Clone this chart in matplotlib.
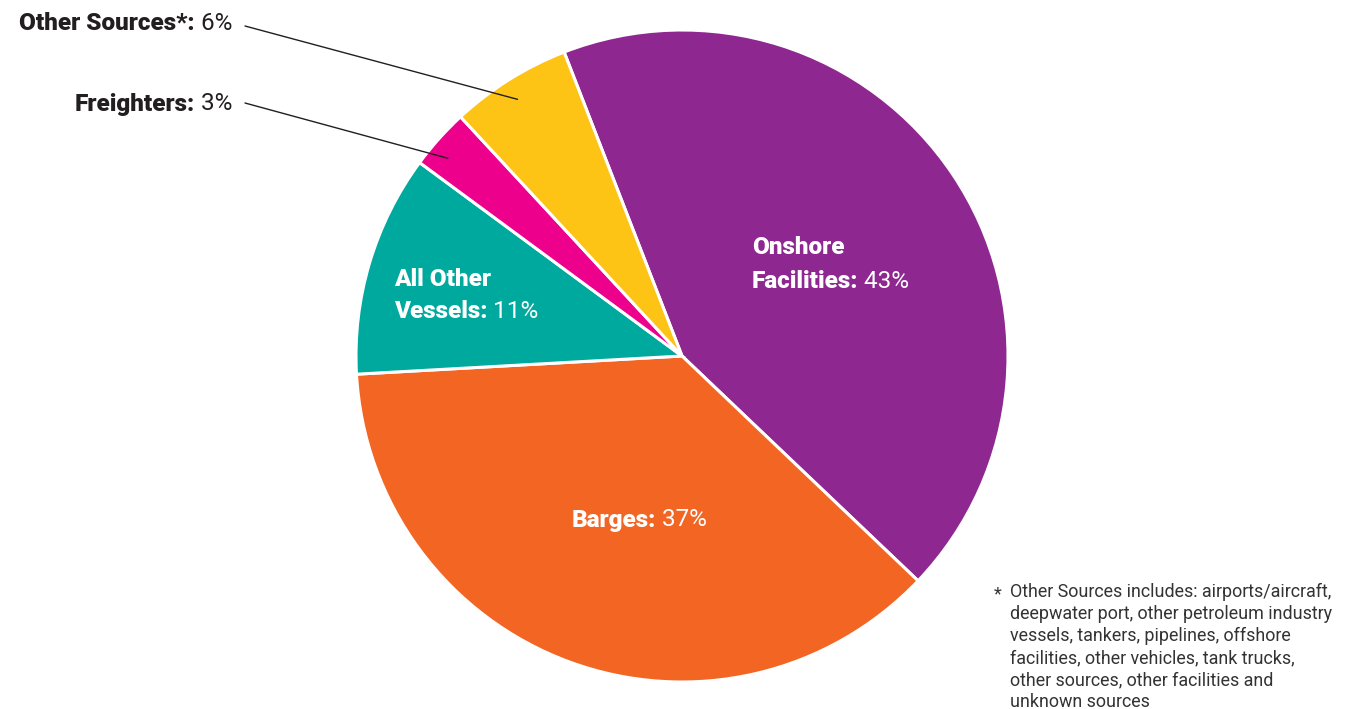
import numpy as np
import matplotlib
matplotlib.use("Agg")
import matplotlib.pyplot as plt

plt.rcParams['font.family'] = ['Roboto', 'DejaVu Sans']

# pie data, clockwise from the top
fuentes = ["Onshore Facilities", "Barges", "All Other Vessels", "Freighters", "Other Sources*"]
porcentajes = [43, 37, 11, 3, 6]
cores = ["#8E278F", "#F26522", "#00A99D", "#EC008C", "#FDC315"]

nota = ("Other Sources includes: airports/aircraft,\n"
        "deepwater port, other petroleum industry\n"
        "vessels, tankers, pipelines, offshore\n"
        "facilities, other vehicles, tank trucks,\n"
        "other sources, other facilities and\n"
        "unknown sources")

W, H = 1351, 709
fig = plt.figure(figsize=(W / 100, H / 100), dpi=100)

def fx(px):
    return px / W

def fy(py):
    return 1 - py / H

# pie: center (682, 356), radius 326 px
cx, cy, r = 682, 356, 326
ax = fig.add_axes([fx(cx - r), fy(cy + r), 2 * r / W, 2 * r / H])
fatias, _ = ax.pie(porcentajes, colors=cores, startangle=111.2, counterclock=False,
                   wedgeprops=dict(edgecolor="white", linewidth=2.2))
ax.set_xlim(-1, 1)
ax.set_ylim(-1, 1)
ax.set_aspect("equal")
ax.axis("off")

TAM = 17.5
PESO = "black"


def rotulo(x, y, negrito, normal, cor, ha="left"):
    # bold name followed by a regular value
    if ha == "left":
        t = fig.text(fx(x), fy(y), negrito, fontsize=TAM, fontweight=PESO, color=cor,
                     ha="left", va="center")
        ax.annotate(" " + normal, xy=(1, 0), xycoords=t, fontsize=TAM,
                    color=cor, ha="left", va="bottom", annotation_clip=False)
    else:
        t = fig.text(fx(x), fy(y), " " + normal, fontsize=TAM,
                     color=cor, ha="right", va="center")
        ax.annotate(negrito, xy=(0, 0), xycoords=t, fontsize=TAM, fontweight=PESO,
                    color=cor, ha="right", va="bottom", annotation_clip=False)


rotulo(752, 281, "Facilities:", "43%", "white")
fig.text(fx(752), fy(248), "Onshore", fontsize=TAM, fontweight=PESO, color="white",
         ha="left", va="center")
rotulo(394, 312, "Vessels:", "11%", "white")
fig.text(fx(394), fy(279), "All Other", fontsize=TAM, fontweight=PESO, color="white",
         ha="left", va="center")
rotulo(572, 520, "Barges:", "37%", "white")
rotulo(232, 24, "Other Sources*:", "6%", "#231F20", ha="right")
rotulo(232, 104, "Freighters:", "3%", "#231F20", ha="right")


# leader lines from the outside labels into their wedges
def ponto(fatia, frac, raio):
    ang = np.deg2rad(fatia.theta1 + frac * (fatia.theta2 - fatia.theta1))
    return raio * np.cos(ang), raio * np.sin(ang)

for i, ytxt, frac, raio in [(4, 26, 0.53, 0.935), (3, 103, 0.65, 0.94)]:
    ax.annotate("", xy=ponto(fatias[i], frac, raio), xycoords="data",
                xytext=(fx(245), fy(ytxt)), textcoords="figure fraction",
                arrowprops=dict(arrowstyle="-", color="#231F20", lw=1.0,
                                shrinkA=0, shrinkB=0),
                annotation_clip=False)

# footnote
fig.text(fx(994), fy(594), "*", fontsize=12.9, color="#333333", ha="left", va="center")
fig.text(fx(1010), fy(583), nota, fontsize=12.9, color="#333333", ha="left", va="top",
         linespacing=1.28)

fig.savefig("out.png", dpi=100, facecolor="white")
